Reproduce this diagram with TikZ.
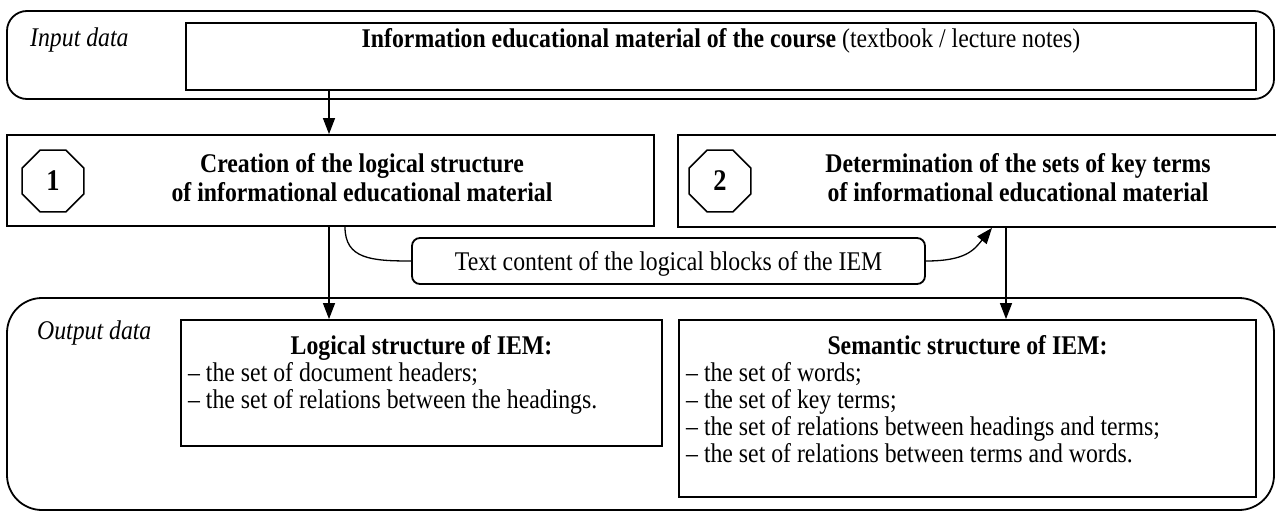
\documentclass[tikz,border=0pt]{standalone}
\usepackage{fontspec}
\setmainfont{Liberation Serif}[FakeStretch=0.88]
\usetikzlibrary{arrows.meta,shapes.geometric}
\begin{document}
\begin{tikzpicture}[x=1pt,y=-1pt,
  every node/.style={font=\fontsize{27}{28}\selectfont, inner sep=0pt},
  frame/.style={draw, line width=1.8pt, rectangle},
  rframe/.style={draw, line width=1.8pt, rectangle, rounded corners=#1},
  oct/.style={draw, line width=1.5pt, regular polygon, regular polygon sides=8, minimum size=67pt, font=\fontsize{30}{30}\selectfont\bfseries},
  conn/.style={line width=1.3pt},
  arr/.style={line width=1.3pt, -{Triangle[length=16pt,width=12pt]}},
  boldtxt/.style={font=\fontsize{27}{29}\selectfont\bfseries, align=center},
  itl/.style={font=\fontsize{27}{28}\selectfont\itshape, anchor=base west},
  item/.style={anchor=base west},
  head/.style={font=\fontsize{27}{28}\selectfont\bfseries, anchor=base}
]
\useasboundingbox (0,0) rectangle (1276,511);
\clip (0,0) rectangle (1276,511);

% input data
\node[rframe=20pt, minimum width=1267pt, minimum height=88pt] (inouter) at (640.5,55) {};
\node[frame, minimum width=1070pt, minimum height=67pt] (ininner) at (721,56.5) {};
\node[anchor=base] (intitle) at (721,48) {\textbf{Information educational material of the course} (textbook / lecture notes)};
\node[itl] (inlabel) at (30,47) {Input data};

% step blocks
\node[frame, minimum width=647pt, minimum height=91pt] (b1) at (330.5,180.5) {};
\node[oct] (o1) at (53,181) {1};
\node[boldtxt] (b1t) at (362,178) {Creation of the logical structure\\of informational educational material};

\node[frame, minimum width=612pt, minimum height=92pt] (b2) at (984,181) {};
\node[oct] (o2) at (720,181) {2};
\node[boldtxt] (b2t) at (1018,178) {Determination of the sets of key terms\\of informational educational material};

% text content box
\node[rframe=8pt, minimum width=513pt, minimum height=46pt] (tc) at (668.5,261) {};
\node[anchor=base] (tct) at (668.5,270) {Text content of the logical blocks of the IEM};

% output data
\node[rframe=35pt, minimum width=1267pt, minimum height=212pt] (outouter) at (640.5,404) {};
\node[itl] (outlabel) at (37,339) {Output data};

\node[frame, minimum width=481pt, minimum height=126pt] (lg) at (421.5,383) {};
\node[head] (lgt) at (421.5,354) {Logical structure of IEM:};
\node[item] (lg1) at (188,381) {-- the set of document headers;};
\node[item] (lg2) at (188,408) {-- the set of relations between the headings.};

\node[frame, minimum width=577pt, minimum height=177pt] (sm) at (967.5,408.5) {};
\node[head] (smt) at (967.5,354) {Semantic structure of IEM:};
\node[item] (sm1) at (686,381) {-- the set of words;};
\node[item] (sm2) at (686,408) {-- the set of key terms;};
\node[item] (sm3) at (686,435) {-- the set of relations between headings and terms;};
\node[item] (sm4) at (686,462) {-- the set of relations between terms and words.};

% connectors
\coordinate (a1) at (329,0);
\coordinate (a3) at (1006,0);
\coordinate (c1) at (345,0);
\coordinate (c2) at (992,0);
\draw[arr] (ininner.south -| a1) -- (b1.north -| a1);
\draw[arr] (b1.south -| a1) -- (lg.north -| a1);
\draw[arr] (b2.south -| a3) -- (sm.north -| a3);
\draw[conn] (b1.south -| c1) .. controls +(0,32) and +(-40,0) .. (tc.west);
\draw[arr] (tc.east) .. controls +(40,0) and +(-18,22) .. (b2.south -| c2);
\end{tikzpicture}
\end{document}
